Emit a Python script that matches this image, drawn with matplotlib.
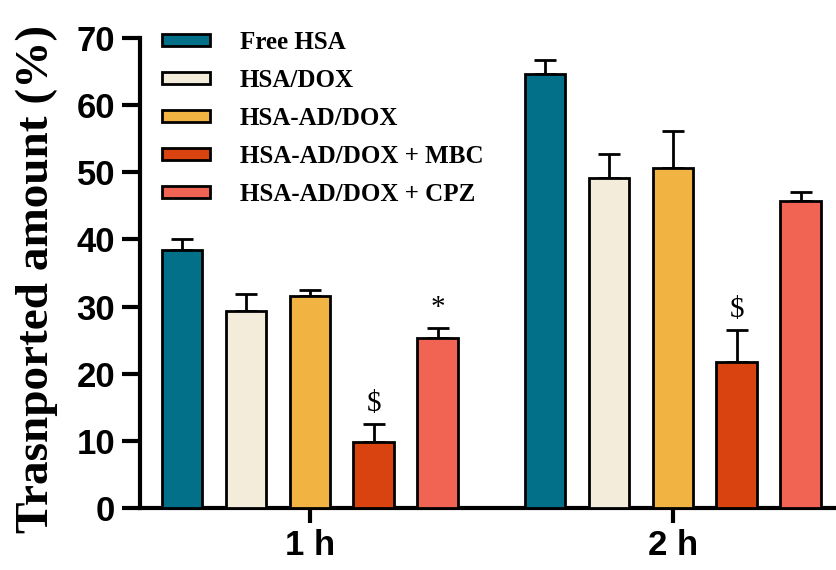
import numpy as np
import matplotlib
matplotlib.use("Agg")
import matplotlib.pyplot as plt
from matplotlib.patches import Patch

groups = ["1 h", "2 h"]
series = ["Free HSA", "HSA/DOX", "HSA-AD/DOX", "HSA-AD/DOX + MBC", "HSA-AD/DOX + CPZ"]
colors = ["#03708A", "#F3ECDA", "#F1B443", "#D9430F", "#F16353"]

# mean values per series, [1 h, 2 h]
means = {
    "Free HSA": [38.4, 64.7],
    "HSA/DOX": [29.3, 49.1],
    "HSA-AD/DOX": [31.6, 50.6],
    "HSA-AD/DOX + MBC": [9.8, 21.8],
    "HSA-AD/DOX + CPZ": [25.3, 45.7],
}
errs = {
    "Free HSA": [1.6, 2.0],
    "HSA/DOX": [2.5, 3.6],
    "HSA-AD/DOX": [0.9, 5.6],
    "HSA-AD/DOX + MBC": [2.7, 4.7],
    "HSA-AD/DOX + CPZ": [1.5, 1.4],
}
# significance marks (series, group index, symbol)
marks = [("HSA-AD/DOX + MBC", 0, "$"), ("HSA-AD/DOX + CPZ", 0, "*"),
         ("HSA-AD/DOX + MBC", 1, "$")]

fig = plt.figure(figsize=(8.37, 5.70), dpi=100)
ax = fig.add_axes([0.1673, 0.1088, 0.8327, 0.8245])

x = np.arange(len(groups))
step = 0.176
width = 0.112
offsets = (np.arange(len(series)) - 2) * step

for i, name in enumerate(series):
    xs = x + offsets[i]
    ax.bar(xs, means[name], width, color=colors[i], edgecolor="black",
           linewidth=2, zorder=3)
    ax.errorbar(xs, means[name], yerr=[np.zeros(2), errs[name]], fmt="none",
                ecolor="black", elinewidth=2, capsize=8, capthick=2, zorder=2)

for name, g, sym in marks:
    i = series.index(name)
    top = means[name][g] + errs[name][g]
    ax.text(x[g] + offsets[i], top + 1.0, sym, ha="center", va="bottom",
            fontfamily="Liberation Serif", fontsize=21)

ax.set_xlim(-0.468, 1.452)
ax.set_ylim(0, 70)
ax.set_yticks(range(0, 71, 10))
ax.set_xticks(x)
ax.set_xticklabels(groups)

for side in ["top", "right"]:
    ax.spines[side].set_visible(False)
for side in ["left", "bottom"]:
    ax.spines[side].set_linewidth(3)

ax.tick_params(axis="x", direction="out", length=11, width=3, pad=4,
               labelsize=25)
ax.tick_params(axis="y", direction="out", length=13, width=3, pad=5,
               labelsize=25)
for lbl in ax.get_xticklabels() + ax.get_yticklabels():
    lbl.set_fontfamily("Liberation Sans")
    lbl.set_fontweight("bold")

ax.set_ylabel("Trasnported amount (%)", fontfamily="Liberation Serif",
              fontweight="bold", fontsize=34)
ax.yaxis.set_label_coords(-0.118, 0.488)

handles = [Patch(facecolor=c, edgecolor="black", linewidth=2) for c in colors]
ax.legend(handles, series, loc="upper left", bbox_to_anchor=(0.031, 1.015),
          frameon=False, prop={"family": "Liberation Serif", "weight": "bold", "size": 18},
          handlelength=1.92, handleheight=0.32, handletextpad=1.2,
          labelspacing=0.6, borderpad=0, borderaxespad=0)

fig.savefig("out.png", dpi=100)
